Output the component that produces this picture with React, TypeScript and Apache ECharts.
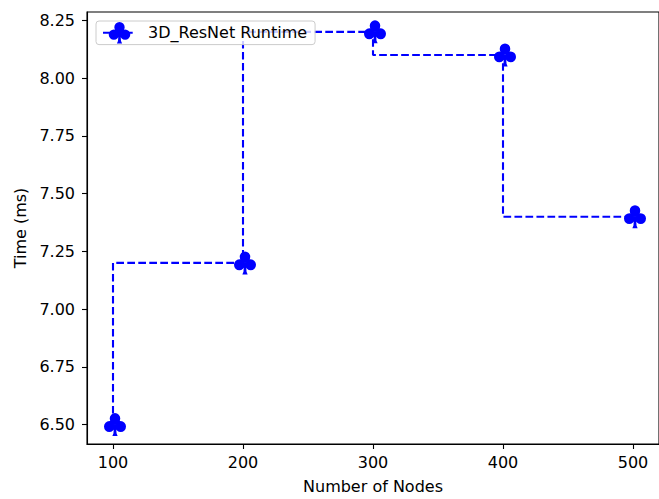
import React, { useEffect, useRef } from "react";
import * as echarts from "echarts";

const nodes = [100, 200, 300, 400, 500];
const runtime = [6.5, 7.2, 8.2, 8.1, 7.4];
const xTicks = [100, 200, 300, 400, 500];
const yTicks = [6.5, 6.75, 7.0, 7.25, 7.5, 7.75, 8.0, 8.25];

const CLUB =
  "path://M26 27A24 24 0 1 1 74 27A24 24 0 1 1 26 27Z" +
  "M0 62A24 24 0 1 1 48 62A24 24 0 1 1 0 62Z" +
  "M52 62A24 24 0 1 1 100 62A24 24 0 1 1 52 62Z" +
  "M46 50L54 50L57 92L62 104L38 104L43 92Z";

export default function App() {
  const ref = useRef<HTMLDivElement>(null);
  useEffect(() => {
    if (!ref.current) return;
    const chart = echarts.init(ref.current, undefined, { renderer: "svg" });
    const font = "DejaVu Sans";
    const fs = 16;
    chart.setOption({
      animation: false,
      backgroundColor: "#ffffff",
      textStyle: { fontFamily: font },
      grid: {
        left: 87,
        top: 12,
        width: 581,
        height: 432,
        show: true,
        borderColor: "#000000",
        borderWidth: 1.1,
        backgroundColor: "transparent",
      },
      legend: {
        left: 96,
        top: 21,
        padding: [1, 8, 1, 6],
        borderColor: "#cccccc",
        borderWidth: 1,
        borderRadius: 3,
        backgroundColor: "rgba(255,255,255,0.8)",
        itemWidth: 33,
        itemHeight: 27,
        textStyle: {
          fontFamily: font,
          fontSize: fs,
          color: "#000000",
          padding: [0, 0, 0, 7],
        },
        data: ["3D_ResNet Runtime"],
      },
      xAxis: {
        type: "value",
        min: 80,
        max: 520,
        name: "Number of Nodes",
        nameLocation: "middle",
        nameGap: 34,
        nameTextStyle: { fontFamily: font, fontSize: fs, color: "#000" },
        axisLine: { show: true, onZero: false, lineStyle: { color: "#000", width: 1.1 } },
        axisTick: {
          show: true,
          inside: false,
          length: 5,
          customValues: xTicks,
          lineStyle: { color: "#000", width: 1.1 },
        },
        axisLabel: {
          customValues: xTicks,
          margin: 10,
          fontFamily: font,
          fontSize: fs,
          color: "#000",
        },
        splitLine: { show: false },
      },
      yAxis: {
        type: "value",
        min: 6.416,
        max: 8.286,
        name: "Time (ms)",
        nameLocation: "middle",
        nameGap: 56,
        nameRotate: 90,
        nameTextStyle: { fontFamily: font, fontSize: fs, color: "#000" },
        axisLine: { show: true, onZero: false, lineStyle: { color: "#000", width: 1.1 } },
        axisTick: {
          show: true,
          inside: false,
          length: 5,
          customValues: yTicks,
          lineStyle: { color: "#000", width: 1.1 },
        },
        axisLabel: {
          customValues: yTicks,
          margin: 12,
          fontFamily: font,
          fontSize: fs,
          color: "#000",
          formatter: (v: number) => v.toFixed(2),
        },
        splitLine: { show: false },
      },
      series: [
        {
          name: "3D_ResNet Runtime",
          type: "line",
          step: "start",
          data: nodes.map((n, i) => [n, runtime[i]]),
          symbol: CLUB,
          symbolSize: [22, 23],
          symbolOffset: [2, 0],
          showAllSymbol: true,
          lineStyle: { color: "#0000ff", width: 2.1, type: [7.7, 3.3] },
          itemStyle: { color: "#0000ff" },
        },
      ],
    });
    return () => chart.dispose();
  }, []);
  return (
    <div
      ref={ref}
      style={{ position: "fixed", left: 0, top: 0, width: 659, height: 499 }}
    />
  );
}
